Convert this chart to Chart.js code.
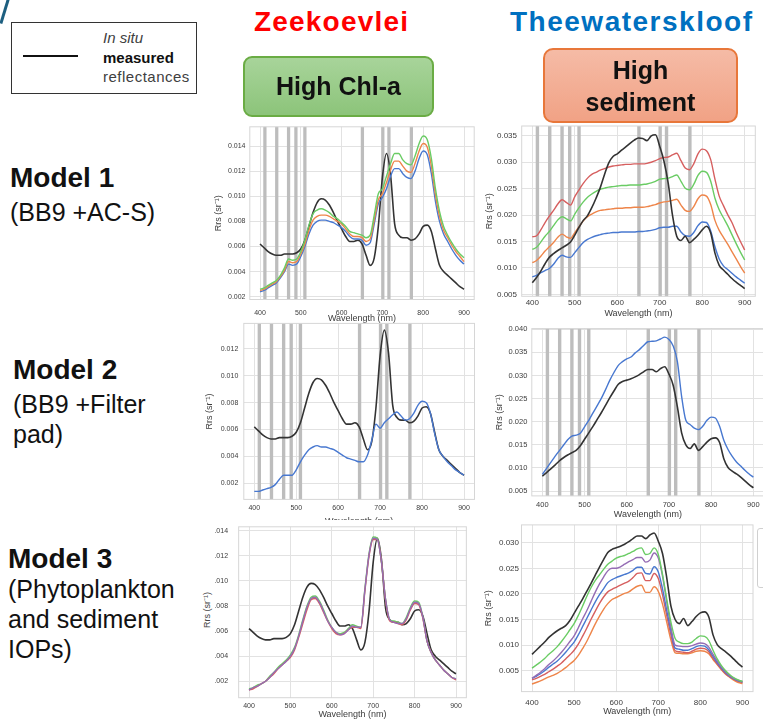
<!DOCTYPE html>
<html><head><meta charset="utf-8">
<script src="https://cdn.jsdelivr.net/npm/chart.js@4.4.1/dist/chart.umd.min.js"></script>
<style>
html,body{margin:0;padding:0;background:#fff;}
body{width:763px;height:719px;position:relative;overflow:hidden;font-family:'Liberation Sans',Arial,sans-serif;}
.t{position:absolute;white-space:nowrap;line-height:1;}
.box{position:absolute;box-sizing:border-box;display:flex;flex-direction:column;align-items:center;justify-content:center;font-weight:bold;color:#111;z-index:10;}
</style></head><body>

<div style="position:absolute;left:3px;top:-1px;width:2.5px;height:25px;background:#1d5f80;transform:rotate(17deg);"></div>

<div style="position:absolute;left:11px;top:22px;width:186px;height:72px;box-sizing:border-box;border:1.5px solid #333;"></div>
<div style="position:absolute;left:23px;top:55px;width:55px;height:1.5px;background:#111;"></div>
<div class="t" style="left:103px;top:29.6px;font-size:15px;font-style:italic;color:#404040;">In situ</div>
<div class="t" style="left:103px;top:49.6px;font-size:15px;font-weight:bold;color:#111;">measured</div>
<div class="t" style="left:103px;top:69px;font-size:15px;color:#404040;letter-spacing:0.5px;">reflectances</div>

<div class="t" style="left:254px;top:8.3px;font-size:28px;font-weight:bold;color:#ff0000;letter-spacing:1.2px;z-index:10;">Zeekoevlei</div>
<div class="t" style="left:510px;top:8.3px;font-size:28px;font-weight:bold;color:#0070c0;letter-spacing:1.5px;z-index:10;">Theewaterskloof</div>

<div class="box" style="left:243px;top:56px;width:191px;height:61px;border:2px solid #6aac44;border-radius:9px;background:linear-gradient(#a8d49a,#8cc47a);font-size:25px;">High Chl-a</div>
<div class="box" style="left:543px;top:48px;width:195px;height:75px;border:2px solid #e8773a;border-radius:10px;background:linear-gradient(#f5bba6,#f1a285);font-size:25px;line-height:32px;"><div>High</div><div>sediment</div></div>

<div class="t" style="left:10px;top:164px;font-size:28px;font-weight:bold;color:#111;">Model 1</div>
<div class="t" style="left:10px;top:199.5px;font-size:25px;color:#111;">(BB9 +AC-S)</div>
<div class="t" style="left:13px;top:356.3px;font-size:28px;font-weight:bold;color:#111;">Model 2</div>
<div class="t" style="left:13px;top:392.1px;font-size:25px;color:#111;">(BB9 +Filter</div>
<div class="t" style="left:13px;top:421.8px;font-size:25px;color:#111;">pad)</div>
<div class="t" style="left:8px;top:544.6px;font-size:28px;font-weight:bold;color:#111;">Model 3</div>
<div class="t" style="left:8px;top:577.1px;font-size:25px;color:#111;">(Phytoplankton</div>
<div class="t" style="left:8px;top:607.1px;font-size:25px;color:#111;">and sediment</div>
<div class="t" style="left:8px;top:637.1px;font-size:25px;color:#111;">IOPs)</div>

<div class="t" style="left:207px;top:610px;font-size:9px;color:#444;transform:translate(-50%,-50%) rotate(-90deg);">Rrs (sr⁻¹)</div>
<div style="position:absolute;left:757px;top:528px;width:20px;height:60px;box-sizing:border-box;border:1px solid #d0d0d0;border-radius:3px;z-index:10;"></div>

<script>
// ---------- data ----------
const wavelengths = [400,410,420,430,440,450,460,470,480,490,500,510,520,530,540,550,560,570,580,590,600,610,620,630,640,650,660,670,680,690,700,710,720,730,740,750,760,770,780,790,800,810,820,830,840,850,860,870,880,890,900];
const xTickValues = [400,500,600,700,800,900];
const bandCentres = [412,441,470,488,510,651,701,716,771];

const p1YTicks = [0.002,0.004,0.006,0.008,0.010,0.012,0.014];
const p2YTicks = [0.005,0.010,0.015,0.020,0.025,0.030,0.035];
const p3YTicks = [0.002,0.004,0.006,0.008,0.010,0.012];
const p4YTicks = [0.005,0.010,0.015,0.020,0.025,0.030,0.035,0.040];
const p5YTicks = [0.002,0.004,0.006,0.008,0.010,0.012,0.014];
const p6YTicks = [0.005,0.010,0.015,0.020,0.025,0.030];

// Zeekoevlei in situ (black)
const zkInSitu = [0.0062,0.0059,0.0056,0.0054,0.0053,0.0053,0.0054,0.0054,0.0054,0.0055,
 0.0058,0.0065,0.0076,0.0087,0.0095,0.0098,0.0097,0.0093,0.0087,0.0080,
 0.0074,0.0068,0.0064,0.0064,0.0065,0.0062,0.0053,0.0045,0.0051,0.0076,
 0.0115,0.0134,0.0117,0.0078,0.0069,0.0067,0.0067,0.0065,0.0066,0.0070,
 0.0076,0.0077,0.0072,0.0058,0.0045,0.0040,0.0037,0.0034,0.0031,0.0028,
 0.0026];
// Zeekoevlei Model 1
const zkM1Blue = [0.0024,0.0025,0.0027,0.0029,0.0031,0.0035,0.0040,0.0046,0.0045,0.0046,
 0.0052,0.0060,0.0070,0.0077,0.0080,0.0081,0.0081,0.0080,0.0079,0.0077,
 0.0075,0.0072,0.0068,0.0066,0.0066,0.0065,0.0061,0.0063,0.0078,0.0094,
 0.0099,0.0106,0.0116,0.0122,0.0122,0.0118,0.0115,0.0114,0.0120,0.0130,
 0.0136,0.0133,0.0118,0.0096,0.0080,0.0070,0.0064,0.0058,0.0053,0.0049,
 0.0046];
const zkM1Orange = [0.0025,0.0026,0.0028,0.0030,0.0032,0.0036,0.0041,0.0048,0.0047,0.0048,
 0.0054,0.0062,0.0073,0.0081,0.0084,0.0085,0.0085,0.0084,0.0082,0.0080,
 0.0078,0.0074,0.0070,0.0068,0.0068,0.0067,0.0064,0.0066,0.0081,0.0097,
 0.0102,0.0111,0.0121,0.0128,0.0128,0.0124,0.0120,0.0119,0.0126,0.0136,
 0.0142,0.0139,0.0124,0.0101,0.0084,0.0073,0.0067,0.0061,0.0056,0.0052,
 0.0048];
const zkM1Green = [0.0026,0.0027,0.0029,0.0031,0.0033,0.0037,0.0043,0.0050,0.0049,0.0050,
 0.0056,0.0065,0.0077,0.0086,0.0089,0.0090,0.0089,0.0087,0.0084,0.0082,
 0.0079,0.0076,0.0072,0.0071,0.0070,0.0069,0.0067,0.0069,0.0085,0.0102,
 0.0106,0.0116,0.0126,0.0134,0.0134,0.0129,0.0126,0.0125,0.0132,0.0142,
 0.0148,0.0145,0.0130,0.0106,0.0088,0.0076,0.0069,0.0063,0.0058,0.0054,
 0.0051];
// Zeekoevlei Model 2
const zkM2Blue = [0.0014,0.0014,0.0015,0.0016,0.0017,0.0019,0.0023,0.0026,0.0026,0.0026,
 0.0030,0.0036,0.0041,0.0045,0.0047,0.0048,0.0047,0.0047,0.0046,0.0045,
 0.0043,0.0041,0.0039,0.0038,0.0037,0.0036,0.0036,0.0041,0.0052,0.0064,
 0.0061,0.0065,0.0068,0.0071,0.0073,0.0070,0.0067,0.0068,0.0072,0.0078,
 0.0081,0.0080,0.0072,0.0057,0.0045,0.0040,0.0036,0.0033,0.0030,0.0028,
 0.0026];
// Zeekoevlei Model 3
const zkM3Purple = [0.0013,0.0015,0.0016,0.0018,0.0020,0.0023,0.0027,0.0030,0.0033,0.0036,
 0.0040,0.0046,0.0056,0.0068,0.0079,0.0086,0.0087,0.0083,0.0076,0.0068,
 0.0063,0.0059,0.0057,0.0058,0.0061,0.0064,0.0063,0.0063,0.0093,0.0121,
 0.0134,0.0133,0.0115,0.0085,0.0069,0.0067,0.0066,0.0066,0.0070,0.0078,
 0.0083,0.0082,0.0071,0.0052,0.0043,0.0037,0.0033,0.0029,0.0026,0.0023,
 0.0022];
const zkM3Green = [0.0014,0.0015,0.0017,0.0018,0.0020,0.0024,0.0027,0.0031,0.0034,0.0037,
 0.0041,0.0047,0.0057,0.0069,0.0080,0.0087,0.0088,0.0084,0.0077,0.0069,
 0.0063,0.0059,0.0058,0.0059,0.0062,0.0065,0.0064,0.0063,0.0094,0.0122,
 0.0135,0.0134,0.0115,0.0085,0.0069,0.0068,0.0067,0.0066,0.0071,0.0079,
 0.0084,0.0083,0.0071,0.0052,0.0043,0.0037,0.0033,0.0029,0.0026,0.0023,
 0.0022];
const zkM3Red = [0.0013,0.0014,0.0016,0.0018,0.0020,0.0023,0.0026,0.0030,0.0033,0.0036,
 0.0039,0.0045,0.0055,0.0066,0.0077,0.0085,0.0086,0.0082,0.0075,0.0068,
 0.0062,0.0058,0.0057,0.0058,0.0061,0.0063,0.0063,0.0062,0.0092,0.0120,
 0.0133,0.0133,0.0115,0.0084,0.0068,0.0067,0.0066,0.0065,0.0069,0.0077,
 0.0082,0.0081,0.0070,0.0052,0.0043,0.0037,0.0033,0.0029,0.0026,0.0023,
 0.0021];

// Theewaterskloof in situ (Model 1 panel)
const twInSituM1 = [0.0072,0.0082,0.0094,0.0108,0.0120,0.0127,0.0133,0.0138,0.0143,0.0149,
 0.0162,0.0177,0.0190,0.0199,0.0214,0.0232,0.0252,0.0277,0.0299,0.0311,
 0.0316,0.0323,0.0329,0.0336,0.0342,0.0346,0.0345,0.0341,0.0350,0.0352,
 0.0330,0.0302,0.0260,0.0200,0.0160,0.0152,0.0160,0.0148,0.0154,0.0162,
 0.0172,0.0179,0.0166,0.0128,0.0105,0.0096,0.0088,0.0080,0.0073,0.0067,
 0.0061];
const twM1Red = [0.0159,0.0161,0.0172,0.0186,0.0198,0.0209,0.0221,0.0229,0.0224,0.0219,
 0.0235,0.0248,0.0260,0.0270,0.0277,0.0281,0.0285,0.0288,0.0291,0.0293,
 0.0294,0.0295,0.0296,0.0296,0.0297,0.0297,0.0297,0.0298,0.0300,0.0303,
 0.0307,0.0309,0.0310,0.0314,0.0317,0.0303,0.0289,0.0286,0.0297,0.0316,
 0.0325,0.0322,0.0305,0.0268,0.0236,0.0218,0.0201,0.0186,0.0167,0.0150,
 0.0134];
const twM1Green = [0.0135,0.0139,0.0149,0.0160,0.0169,0.0180,0.0191,0.0197,0.0193,0.0189,
 0.0202,0.0214,0.0225,0.0234,0.0240,0.0245,0.0249,0.0251,0.0253,0.0254,
 0.0255,0.0256,0.0256,0.0257,0.0257,0.0257,0.0258,0.0259,0.0261,0.0264,
 0.0268,0.0269,0.0270,0.0273,0.0276,0.0264,0.0251,0.0248,0.0258,0.0275,
 0.0283,0.0281,0.0264,0.0232,0.0210,0.0195,0.0180,0.0163,0.0146,0.0130,
 0.0115];
const twM1Orange = [0.0110,0.0114,0.0122,0.0132,0.0140,0.0148,0.0158,0.0164,0.0159,0.0156,
 0.0167,0.0178,0.0189,0.0197,0.0202,0.0206,0.0209,0.0210,0.0211,0.0212,
 0.0213,0.0213,0.0214,0.0214,0.0215,0.0215,0.0215,0.0216,0.0218,0.0220,
 0.0223,0.0225,0.0226,0.0228,0.0230,0.0219,0.0209,0.0207,0.0216,0.0231,
 0.0238,0.0236,0.0220,0.0190,0.0171,0.0158,0.0145,0.0131,0.0117,0.0103,
 0.0090];
const twM1Blue = [0.0083,0.0086,0.0091,0.0095,0.0099,0.0107,0.0118,0.0124,0.0121,0.0120,
 0.0129,0.0139,0.0148,0.0154,0.0158,0.0161,0.0163,0.0165,0.0166,0.0167,
 0.0167,0.0168,0.0168,0.0168,0.0168,0.0169,0.0169,0.0170,0.0171,0.0173,
 0.0176,0.0177,0.0177,0.0179,0.0179,0.0168,0.0161,0.0160,0.0167,0.0180,
 0.0187,0.0186,0.0170,0.0140,0.0117,0.0104,0.0097,0.0090,0.0083,0.0077,
 0.0071];
// Theewaterskloof in situ (Model 2 / Model 3 panels)
const twInSitu = [0.0082,0.0090,0.0098,0.0106,0.0115,0.0122,0.0128,0.0133,0.0138,0.0148,
 0.0162,0.0176,0.0190,0.0205,0.0220,0.0236,0.0252,0.0267,0.0281,0.0287,
 0.0290,0.0293,0.0297,0.0302,0.0308,0.0313,0.0313,0.0308,0.0315,0.0319,
 0.0303,0.0279,0.0232,0.0176,0.0150,0.0142,0.0152,0.0138,0.0146,0.0156,
 0.0163,0.0165,0.0155,0.0120,0.0101,0.0093,0.0087,0.0080,0.0072,0.0064,
 0.0057];
const twM2Blue = [0.0086,0.0099,0.0112,0.0125,0.0137,0.0149,0.0161,0.0169,0.0171,0.0175,
 0.0189,0.0203,0.0219,0.0235,0.0251,0.0270,0.0290,0.0307,0.0322,0.0330,
 0.0336,0.0340,0.0349,0.0356,0.0365,0.0373,0.0374,0.0375,0.0379,0.0383,
 0.0378,0.0364,0.0330,0.0255,0.0203,0.0194,0.0186,0.0183,0.0190,0.0203,
 0.0210,0.0208,0.0190,0.0160,0.0140,0.0125,0.0113,0.0104,0.0095,0.0087,
 0.0080];
// Theewaterskloof Model 3
const twM3Green = [0.0055,0.0061,0.0067,0.0074,0.0082,0.0089,0.0097,0.0107,0.0118,0.0130,
 0.0142,0.0158,0.0176,0.0195,0.0212,0.0226,0.0237,0.0248,0.0258,0.0264,
 0.0270,0.0273,0.0275,0.0279,0.0283,0.0288,0.0290,0.0277,0.0279,0.0290,
 0.0277,0.0238,0.0190,0.0145,0.0113,0.0106,0.0103,0.0103,0.0106,0.0113,
 0.0118,0.0117,0.0109,0.0090,0.0073,0.0060,0.0050,0.0042,0.0036,0.0032,
 0.0029];
const twM3Purple = [0.0035,0.0041,0.0047,0.0054,0.0062,0.0069,0.0077,0.0086,0.0096,0.0107,
 0.0118,0.0134,0.0151,0.0167,0.0185,0.0203,0.0219,0.0233,0.0245,0.0250,
 0.0250,0.0253,0.0258,0.0263,0.0267,0.0271,0.0271,0.0262,0.0266,0.0280,
 0.0270,0.0235,0.0185,0.0135,0.0100,0.0098,0.0097,0.0097,0.0099,0.0102,
 0.0104,0.0103,0.0096,0.0082,0.0069,0.0057,0.0048,0.0040,0.0035,0.0031,
 0.0029];
const twM3Blue = [0.0035,0.0039,0.0044,0.0050,0.0057,0.0063,0.0069,0.0077,0.0086,0.0096,
 0.0106,0.0120,0.0136,0.0152,0.0168,0.0184,0.0198,0.0210,0.0222,0.0228,
 0.0232,0.0235,0.0238,0.0241,0.0246,0.0252,0.0252,0.0240,0.0239,0.0253,
 0.0243,0.0210,0.0168,0.0128,0.0094,0.0092,0.0090,0.0090,0.0093,0.0097,
 0.0099,0.0098,0.0091,0.0078,0.0066,0.0055,0.0046,0.0039,0.0034,0.0030,
 0.0028];
const twM3Red = [0.0032,0.0035,0.0039,0.0043,0.0048,0.0053,0.0059,0.0065,0.0073,0.0081,
 0.0090,0.0102,0.0117,0.0133,0.0150,0.0166,0.0181,0.0194,0.0204,0.0209,
 0.0213,0.0217,0.0221,0.0225,0.0232,0.0240,0.0241,0.0226,0.0226,0.0240,
 0.0230,0.0198,0.0158,0.0120,0.0089,0.0087,0.0086,0.0085,0.0088,0.0092,
 0.0094,0.0093,0.0087,0.0074,0.0063,0.0053,0.0044,0.0038,0.0033,0.0029,
 0.0027];
const twM3Orange = [0.0024,0.0027,0.0030,0.0034,0.0038,0.0041,0.0045,0.0050,0.0056,0.0063,
 0.0070,0.0080,0.0093,0.0107,0.0124,0.0141,0.0156,0.0170,0.0181,0.0189,
 0.0193,0.0197,0.0201,0.0204,0.0210,0.0215,0.0217,0.0203,0.0203,0.0214,
 0.0205,0.0180,0.0145,0.0110,0.0085,0.0084,0.0083,0.0083,0.0085,0.0088,
 0.0089,0.0088,0.0083,0.0072,0.0062,0.0052,0.0043,0.0037,0.0031,0.0027,
 0.0025];

// ---------- styling ----------
const FONT = "'Liberation Sans', Arial, sans-serif";
const TXT = '#3c3c3c', GRID = '#e2e2e2';
const C = {black:'#333333', blue:'#4878d0', orange:'#ee854a', green:'#6acc64', red:'#d65f5f', purple:'#956cb4'};

const bandPlugin = {
  id: 'bands',
  beforeDatasetsDraw(chart, args, opts) {
    if (!opts || !opts.centres) return;
    const {ctx, chartArea: a, scales: {x}} = chart;
    ctx.save();
    ctx.fillStyle = opts.color;
    opts.centres.forEach(c => {
      const x0 = x.getPixelForValue(c - opts.width / 2), x1 = x.getPixelForValue(c + opts.width / 2);
      ctx.fillRect(x0, a.top, x1 - x0, a.bottom - a.top);
    });
    ctx.restore();
  }
};
const framePlugin = {
  id: 'frame',
  beforeDatasetsDraw(chart, args, opts) {
    const {ctx, chartArea: a} = chart;
    ctx.save();
    ctx.strokeStyle = opts.color || '#d4d4d4';
    ctx.lineWidth = 1;
    ctx.strokeRect(a.left, a.top, a.right - a.left, a.bottom - a.top);
    ctx.restore();
  }
};

function buildPanel(p) {
  const cx = Math.round(p.canvasLeft), cy = Math.round(p.area.t - 12);
  const cr = Math.round(p.area.r + 10), cb = Math.round(p.canvasBottom);
  const w = cr - cx, h = cb - cy;
  const clip = Object.assign({l: cx, t: cy, r: cr, b: cb}, p.clip || {});
  const wrap = document.createElement('div');
  wrap.style.cssText = `position:absolute;left:${clip.l}px;top:${clip.t}px;width:${clip.r - clip.l}px;height:${clip.b - clip.t}px;overflow:hidden;z-index:${p.z || 1};`;
  const cv = document.createElement('canvas');
  cv.width = w; cv.height = h;
  cv.style.cssText = `position:absolute;left:${cx - clip.l}px;top:${cy - clip.t}px;width:${w}px;height:${h}px;`;
  wrap.appendChild(cv);
  document.body.appendChild(wrap);
  const tickFont = {family: FONT, size: p.tick};
  const titleFont = {family: FONT, size: 9, lineHeight: 1.2};
  new Chart(cv.getContext('2d'), {
    type: 'line',
    data: {
      datasets: p.series.map(s => ({
        data: wavelengths.map((x, i) => ({x: x, y: s.values[i]})),
        borderColor: s.color,
        borderWidth: s.lw || 1.4,
        pointRadius: 0,
        fill: false,
        cubicInterpolationMode: 'monotone'
      }))
    },
    options: {
      responsive: false, animation: false, devicePixelRatio: 1, events: [],
      layout: {padding: {left: 0, right: cr - p.area.r, top: p.area.t - cy, bottom: 0}},
      plugins: {
        legend: {display: false}, tooltip: {enabled: false},
        bands: p.bands ? {centres: bandCentres, width: 8, color: '#bdbdbd'} : false,
        frame: {color: '#d6d6d6'}
      },
      scales: {
        x: {
          type: 'linear', min: 375, max: 925,
          afterBuildTicks: s => { s.ticks = xTickValues.map(v => ({value: v})); },
          afterFit: s => { s.height = cb - p.area.b; },
          grid: {color: GRID, drawTicks: false, lineWidth: 1},
          border: {display: false},
          ticks: {font: tickFont, color: TXT, padding: p.xPad, maxRotation: 0, autoSkip: false},
          title: {display: true, text: 'Wavelength (nm)', font: titleFont, color: TXT, padding: 0}
        },
        y: {
          type: 'linear', min: p.yMin, max: p.yMax,
          afterBuildTicks: s => { s.ticks = p.yTicks.map(v => ({value: v})); },
          afterFit: s => { s.width = p.area.l - cx; },
          grid: {color: GRID, drawTicks: false, lineWidth: 1},
          border: {display: false},
          ticks: {font: tickFont, color: TXT, padding: p.yPad, autoSkip: false, callback: v => Number(v).toFixed(3)},
          title: {display: p.yTitle !== false, text: 'Rrs (sr⁻¹)', font: titleFont, color: TXT, padding: 0}
        }
      }
    },
    plugins: [bandPlugin, framePlugin]
  });
}

const panels = [
  { // Model 1 – Zeekoevlei
    canvasLeft: 213, canvasBottom: 324.4, area: {l: 249.8, t: 126.8, r: 474.2, b: 299.5},
    yMin: 0.00178, yMax: 0.01553, yTicks: p1YTicks, tick: 7, yPad: 4.3, xPad: 9, bands: true,
    series: [
      {values: zkM1Green, color: C.green}, {values: zkM1Orange, color: C.orange},
      {values: zkM1Blue, color: C.blue}, {values: zkInSitu, color: C.black, lw: 1.6}
    ]
  },
  { // Model 1 – Theewaterskloof
    canvasLeft: 484.3, canvasBottom: 318.7, area: {l: 521.7, t: 126, r: 755.3, b: 296.3},
    yMin: 0.00463, yMax: 0.03687, yTicks: p2YTicks, tick: 8, yPad: 4.7, xPad: 1.6, bands: true,
    series: [
      {values: twInSituM1, color: C.black, lw: 1.6},
      {values: twM1Red, color: C.red}, {values: twM1Green, color: C.green},
      {values: twM1Orange, color: C.orange}, {values: twM1Blue, color: C.blue}
    ]
  },
  { // Model 2 – Zeekoevlei
    canvasLeft: 203.6, canvasBottom: 527, area: {l: 243.8, t: 323.4, r: 474.5, b: 499.4},
    clip: {b: 519.5}, z: 2,
    yMin: 0.0008, yMax: 0.0139, yTicks: p3YTicks, tick: 7, yPad: 5.5, xPad: 4.4, bands: true,
    series: [
      {values: zkM2Blue, color: C.blue}, {values: zkInSitu, color: C.black, lw: 1.6}
    ]
  },
  { // Model 2 – Theewaterskloof
    canvasLeft: 494.3, canvasBottom: 519.7, area: {l: 531.8, t: 328.6, r: 763.9, b: 495.9},
    yMin: 0.00395, yMax: 0.04015, yTicks: p4YTicks, tick: 7.5, yPad: 4.5, xPad: 4.9, bands: true,
    series: [
      {values: twM2Blue, color: C.blue}, {values: twInSitu, color: C.black, lw: 1.6}
    ]
  },
  { // Model 3 – Zeekoevlei
    canvasLeft: 200, canvasBottom: 720.4, area: {l: 238.65, t: 524, r: 466.35, b: 697.7},
    clip: {l: 215, t: 519.5}, z: 3, yTitle: false,
    yMin: 0.00069, yMax: 0.01431, yTicks: p5YTicks, tick: 7, yPad: 10.6, xPad: 3.8, bands: false,
    series: [
      {values: zkM3Purple, color: C.purple}, {values: zkM3Red, color: C.red},
      {values: zkM3Green, color: C.green}, {values: zkInSitu, color: C.black, lw: 1.6}
    ]
  },
  { // Model 3 – Theewaterskloof
    canvasLeft: 482.6, canvasBottom: 717.1, area: {l: 521.5, t: 524.9, r: 753, b: 691.6},
    yMin: 0.00092, yMax: 0.03348, yTicks: p6YTicks, tick: 8, yPad: 2.5, xPad: 5.9, bands: false,
    series: [
      {values: twInSitu, color: C.black, lw: 1.6},
      {values: twM3Green, color: C.green}, {values: twM3Purple, color: C.purple},
      {values: twM3Blue, color: C.blue}, {values: twM3Red, color: C.red},
      {values: twM3Orange, color: C.orange}
    ]
  }
];
panels.forEach(buildPanel);
</script>
</body></html>
